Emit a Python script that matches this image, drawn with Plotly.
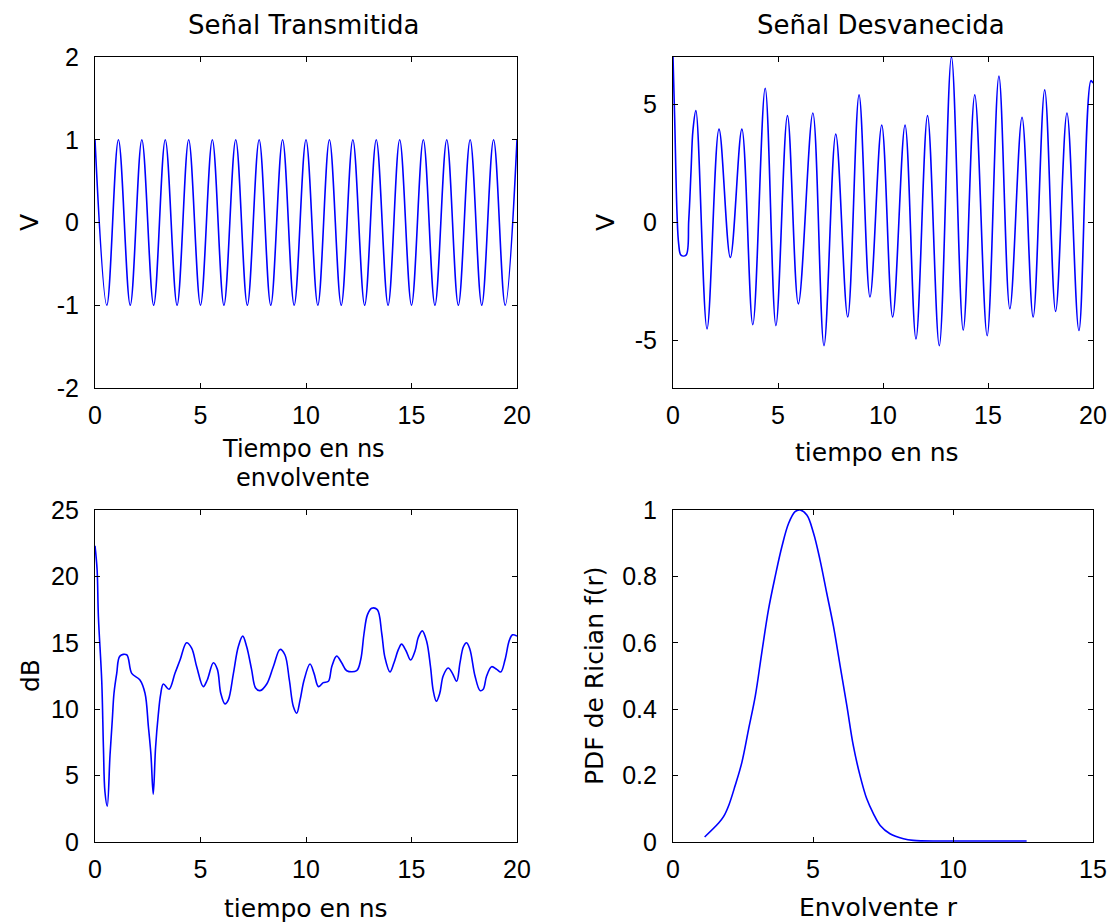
import plotly.graph_objects as go

# ---------------- data ----------------
# Señal Transmitida: peak / trough instants (ns) and values (V)
tx_t = [0.0, 0.56, 1.11, 1.67, 2.22, 2.78, 3.33, 3.89, 4.44, 5.0, 5.56, 6.11, 6.67, 7.22,
        7.78, 8.33, 8.89, 9.44, 10.0, 10.56, 11.11, 11.67, 12.22, 12.78, 13.33, 13.89,
        14.44, 15.0, 15.56, 16.11, 16.67, 17.22, 17.78, 18.33, 18.89, 19.44, 20.0]
tx_v = [1, -1, 1, -1, 1, -1, 1, -1, 1, -1, 1, -1, 1, -1, 1, -1, 1, -1, 1, -1, 1, -1, 1, -1,
        1, -1, 1, -1, 1, -1, 1, -1, 1, -1, 1, -1, 1]

# Señal Desvanecida
fd_t = [0.0, 0.08, 0.19, 0.27, 0.38, 0.62, 0.75, 0.86, 0.95, 1.09, 1.62, 2.19, 2.73, 3.28,
        3.80, 4.39, 4.90, 5.45, 5.97, 6.66, 7.19, 7.75, 8.32, 8.86, 9.38, 9.94, 10.46,
        11.05, 11.57, 12.12, 12.68, 13.26, 13.82, 14.37, 14.96, 15.52, 16.04, 16.62,
        17.15, 17.70, 18.22, 18.76, 19.33, 19.9, 20.0]
fd_v = [7.0, 4.4, 0.4, -0.9, -1.38, -1.38, 0.1, 2.2, 3.9, 4.73, -4.5, 3.95, -1.48, 3.95,
        -4.32, 5.68, -4.36, 4.52, -3.44, 4.63, -5.21, 3.74, -4.0, 5.4, -3.15, 4.12, -4.0,
        4.12, -4.93, 4.52, -5.21, 7.0, -4.55, 5.4, -4.79, 6.19, -3.65, 4.45, -4.0, 5.61,
        -3.76, 4.63, -4.57, 6.0, 5.9]

# envolvente (dB)
env_t = [0.0, 0.1, 0.16, 0.32, 0.40, 0.47, 0.58, 0.71, 0.82, 0.9, 1.03, 1.18, 1.5, 1.74,
         2.13, 2.37, 2.53, 2.65, 2.76, 2.87, 3.0, 3.11, 3.24, 3.51, 3.79, 4.03, 4.34,
         4.58, 4.82, 5.13, 5.32, 5.61, 5.8, 5.96, 6.16, 6.32, 6.56, 6.79, 7.0, 7.19,
         7.42, 7.61, 7.82, 8.14, 8.45, 8.77, 9.0, 9.21, 9.4, 9.56, 9.72, 9.91, 10.19,
         10.38, 10.59, 10.82, 11.06, 11.22, 11.45, 11.69, 11.93, 12.4, 12.59, 12.75,
         12.91, 13.11, 13.38, 13.59, 13.74, 13.98, 14.17, 14.38, 14.53, 14.74, 14.96,
         15.17, 15.32, 15.51, 15.72, 15.9, 16.03, 16.18, 16.34, 16.5, 16.74, 16.94,
         17.14, 17.3, 17.46, 17.61, 17.77, 18.01, 18.25, 18.4, 18.56, 18.8, 19.04,
         19.23, 19.43, 19.64, 19.79, 20.0]
env_db = [22.3, 20.5, 17.0, 12.1, 7.1, 3.8, 2.7, 6.5, 9.2, 11.2, 12.7, 14.0, 14.1, 12.7,
          12.2, 11.2, 8.7, 6.6, 3.6, 7.1, 9.6, 11.1, 11.9, 11.5, 12.7, 13.7, 15.0,
          14.6, 13.2, 11.7, 12.2, 13.5, 13.0, 11.2, 10.4, 10.7, 12.7, 14.7, 15.5, 14.7,
          13.0, 11.6, 11.4, 11.9, 13.2, 14.5, 14.1, 12.2, 10.2, 9.7, 10.7, 12.2, 13.4,
          12.7, 11.7, 12.0, 12.1, 13.2, 14.0, 13.5, 12.9, 12.9, 13.7, 15.7,
          17.1, 17.6, 17.5, 15.7, 13.9, 12.8, 13.5, 14.5, 14.9, 14.4, 13.7,
          14.4, 15.4, 15.9, 15.1, 13.2, 11.4, 10.6, 11.2, 12.5, 13.1, 12.7,
          12.1, 13.5, 14.7, 15.0, 14.5, 12.5, 11.4, 11.5, 12.5, 13.2, 13.0,
          12.8, 13.7, 15.2, 15.6, 15.5]

# PDF de Rician
pdf_r = [1.13, 1.63, 1.81, 1.99, 2.22, 2.46, 2.70, 2.94, 3.17, 3.41, 3.65, 3.89, 4.13,
         4.36, 4.54, 4.78, 5.02, 5.25, 5.49, 5.73, 5.97, 6.21, 6.44, 6.68, 6.92, 7.16,
         7.40, 7.75, 8.23, 8.58, 9.5, 10.5, 11.5, 12.63]
pdf_f = [0.015, 0.057, 0.077, 0.11, 0.17, 0.24, 0.34, 0.44, 0.57, 0.70, 0.80, 0.89, 0.96,
         0.995, 1.0, 0.985, 0.93, 0.85, 0.75, 0.65, 0.53, 0.41, 0.29, 0.20, 0.13, 0.085,
         0.05, 0.025, 0.01, 0.005, 0.003, 0.003, 0.003, 0.003]

# tick values / labels
t_ticks = [0, 5, 10, 15, 20]
t_labels = ["0", "5", "10", "15", "20"]
v1_ticks = [-2, -1, 0, 1, 2]
v1_labels = ["-2", "-1", "0", "1", "2"]
v2_ticks = [-5, 0, 5]
v2_labels = ["-5", "0", "5"]
db_ticks = [0, 5, 10, 15, 20, 25]
db_labels = ["0", "5", "10", "15", "20", "25"]
r_ticks = [0, 5, 10, 15]
r_labels = ["0", "5", "10", "15"]
p_ticks = [0, 0.2, 0.4, 0.6, 0.8, 1]
p_labels = ["0", "0.2", "0.4", "0.6", "0.8", "1"]

# ---------------- figure ----------------
W, H = 1110, 924
BLUE = "rgb(0,0,255)"
FONT = "DejaVu Sans"
TFONT = "Liberation Sans"

def px_x(p):
    return p / W

def px_y(p):
    return 1 - p / H

fig = go.Figure()
line = dict(color=BLUE, width=1.6, shape="spline", smoothing=1.0)
fig.add_trace(go.Scatter(x=tx_t, y=tx_v, mode="lines", line=line, xaxis="x", yaxis="y"))
fig.add_trace(go.Scatter(x=fd_t, y=fd_v, mode="lines", line=line, xaxis="x2", yaxis="y2"))
fig.add_trace(go.Scatter(x=env_t, y=env_db, mode="lines", line=line, xaxis="x3", yaxis="y3"))
fig.add_trace(go.Scatter(x=pdf_r, y=pdf_f, mode="lines", line=line, xaxis="x4", yaxis="y4"))

left_dom = [px_x(95), px_x(517)]
right_dom = [px_x(673), px_x(1093)]
top_dom = [px_y(388), px_y(57)]
bot_dom = [px_y(842), px_y(510)]

def ax(domain, rng, tickvals, ticktext, anchor, standoff):
    return dict(domain=domain, range=rng, tickvals=tickvals, ticktext=ticktext,
                anchor=anchor, automargin=False,
                showline=True, linecolor="black", linewidth=1.2, mirror="ticks",
                ticks="inside", ticklen=5, tickcolor="black", tickwidth=1.2,
                showgrid=False, zeroline=False, ticklabelstandoff=standoff,
                tickfont=dict(family=TFONT, size=25, color="black"))

fig.update_layout(
    width=W, height=H,
    margin=dict(l=0, r=0, t=0, b=0, autoexpand=False),
    paper_bgcolor="white", plot_bgcolor="white", showlegend=False,
    xaxis=ax(left_dom, [0, 20], t_ticks, t_labels, "y", 5),
    yaxis=ax(top_dom, [-2, 2], v1_ticks, v1_labels, "x", 10),
    xaxis2=ax(right_dom, [0, 20], t_ticks, t_labels, "y2", 5),
    yaxis2=ax(top_dom, [-7, 7], v2_ticks, v2_labels, "x2", 10),
    xaxis3=ax(left_dom, [0, 20], t_ticks, t_labels, "y3", 5),
    yaxis3=ax(bot_dom, [0, 25], db_ticks, db_labels, "x3", 10),
    xaxis4=ax(right_dom, [0, 15], r_ticks, r_labels, "y4", 5),
    yaxis4=ax(bot_dom, [0, 1], p_ticks, p_labels, "x4", 10),
)

def label(text, x, y, angle=0, size=25):
    fig.add_annotation(text=text, x=px_x(x), y=px_y(y), xref="paper", yref="paper",
                       showarrow=False, xanchor="center", yanchor="middle",
                       textangle=angle, font=dict(family=FONT, size=size, color="black"))

label("Señal Transmitida", 304, 25, size=26)
label("Señal Desvanecida", 881, 25, size=26)
label("Tiempo en ns", 303, 449, size=24)
label("envolvente", 303, 478, size=24)
label("tiempo en ns", 877, 452)
label("tiempo en ns", 306, 908)
label("Envolvente r", 878, 907)
label("V", 30, 223, -90)
label("V", 606, 223, -90)
label("dB", 30, 676, -90)
label("PDF de Rician f(r)", 594, 676, -90)

fig.write_html("out.html")
